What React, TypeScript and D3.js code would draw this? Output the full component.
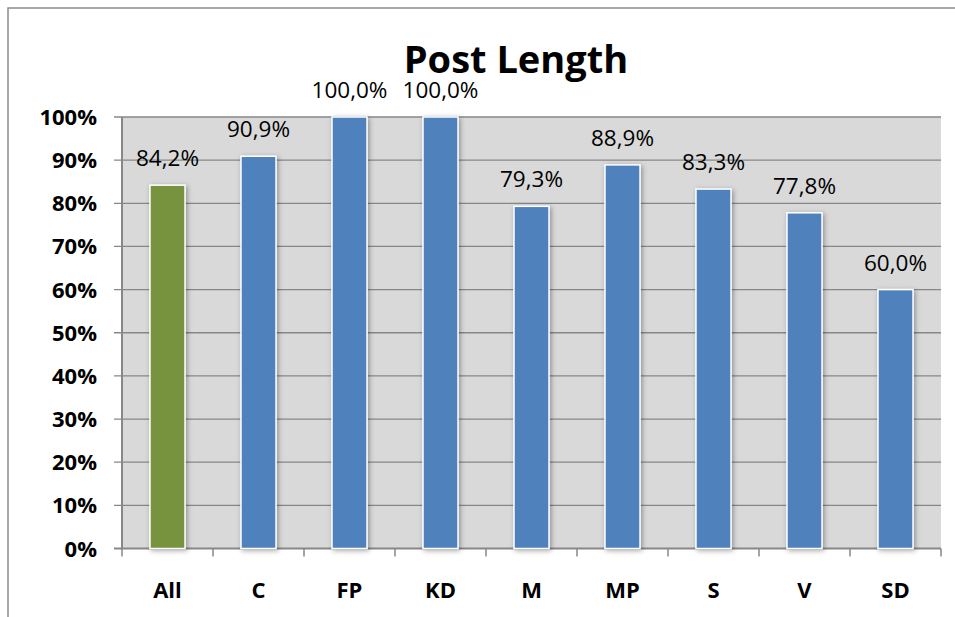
import React from 'react';
import * as d3 from 'd3';

const categories = ['All', 'C', 'FP', 'KD', 'M', 'MP', 'S', 'V', 'SD'];
const values = [84.2, 90.9, 100.0, 100.0, 79.3, 88.9, 83.3, 77.8, 60.0];
const barColors = ['#77933c', '#4f81bd', '#4f81bd', '#4f81bd', '#4f81bd', '#4f81bd', '#4f81bd', '#4f81bd', '#4f81bd'];
const yTicks = [0, 10, 20, 30, 40, 50, 60, 70, 80, 90, 100];
const title = 'Post Length';

const W = 955;
const H = 617;
const plot = { left: 122, right: 941, top: 117, bottom: 548.5 };
const font = "'Open Sans', 'DejaVu Sans', sans-serif";

const App = () => {
  const x = d3.scaleBand<string>()
    .domain(categories)
    .range([plot.left, plot.right])
    .paddingInner(0.615)
    .paddingOuter(0.3075);

  const y = d3.scaleLinear().domain([0, 100]).range([plot.bottom, plot.top]);
  const step = x.step();
  const fmt = (v: number) => v.toFixed(1).replace('.', ',') + '%';

  return (
    <div style={{ position: 'absolute', left: 0, top: 0 }}>
      <svg width={W} height={H} style={{ display: 'block', background: '#fff' }}>
        <defs>
          <filter id="barShadow" x="-40%" y="-10%" width="180%" height="120%">
            <feDropShadow dx="1.5" dy="1.5" stdDeviation="2.5" floodColor="#000" floodOpacity="0.35" />
          </filter>
        </defs>

        {/* outer chart frame, cropped by the picture */}
        <rect x={8} y={8} width={W + 20} height={H + 20} fill="#fff" stroke="#8c8c8c" strokeWidth={1.5} />

        <text x={516} y={73} textAnchor="middle" fontFamily={font} fontWeight={700} fontSize={38} fill="#000">
          {title}
        </text>

        {/* plot area */}
        <rect x={plot.left} y={plot.top} width={plot.right - plot.left} height={plot.bottom - plot.top} fill="#d9d9d9" />

        {yTicks.map(t => (
          <g key={t}>
            <line x1={plot.left - 8} x2={t === 0 ? plot.right : plot.right} y1={y(t)} y2={y(t)} stroke="#878787" strokeWidth={t === 0 ? 2 : 1.3} />
            <text x={97} y={y(t) + 8} textAnchor="end" fontFamily={font} fontWeight={700} fontSize={22} fill="#000">
              {t}%
            </text>
          </g>
        ))}

        <line x1={plot.left} x2={plot.left} y1={plot.top} y2={plot.bottom + 1} stroke="#878787" strokeWidth={2} />

        {categories.map((c, i) => (
          <line key={'t' + c} x1={plot.left + i * step + step} x2={plot.left + i * step + step} y1={plot.bottom} y2={plot.bottom + 8} stroke="#878787" strokeWidth={1.5} />
        ))}
        <line x1={plot.left} x2={plot.left} y1={plot.bottom} y2={plot.bottom + 8} stroke="#878787" strokeWidth={1.5} />

        {categories.map((c, i) => (
          <rect
            key={'b' + c}
            x={x(c)}
            y={y(values[i])}
            width={x.bandwidth()}
            height={plot.bottom - y(values[i])}
            fill={barColors[i]}
            stroke="#fff"
            strokeWidth={1.5}
            filter="url(#barShadow)"
          />
        ))}

        {categories.map((c, i) => (
          <text key={'v' + c} x={(x(c) ?? 0) + x.bandwidth() / 2} y={y(values[i]) - 19} textAnchor="middle" fontFamily={font} fontSize={22.5} fill="#000">
            {fmt(values[i])}
          </text>
        ))}

        {categories.map(c => (
          <text key={'c' + c} x={(x(c) ?? 0) + x.bandwidth() / 2} y={598} textAnchor="middle" fontFamily={font} fontWeight={700} fontSize={22} fill="#000">
            {c}
          </text>
        ))}
      </svg>
    </div>
  );
};

export default App;
